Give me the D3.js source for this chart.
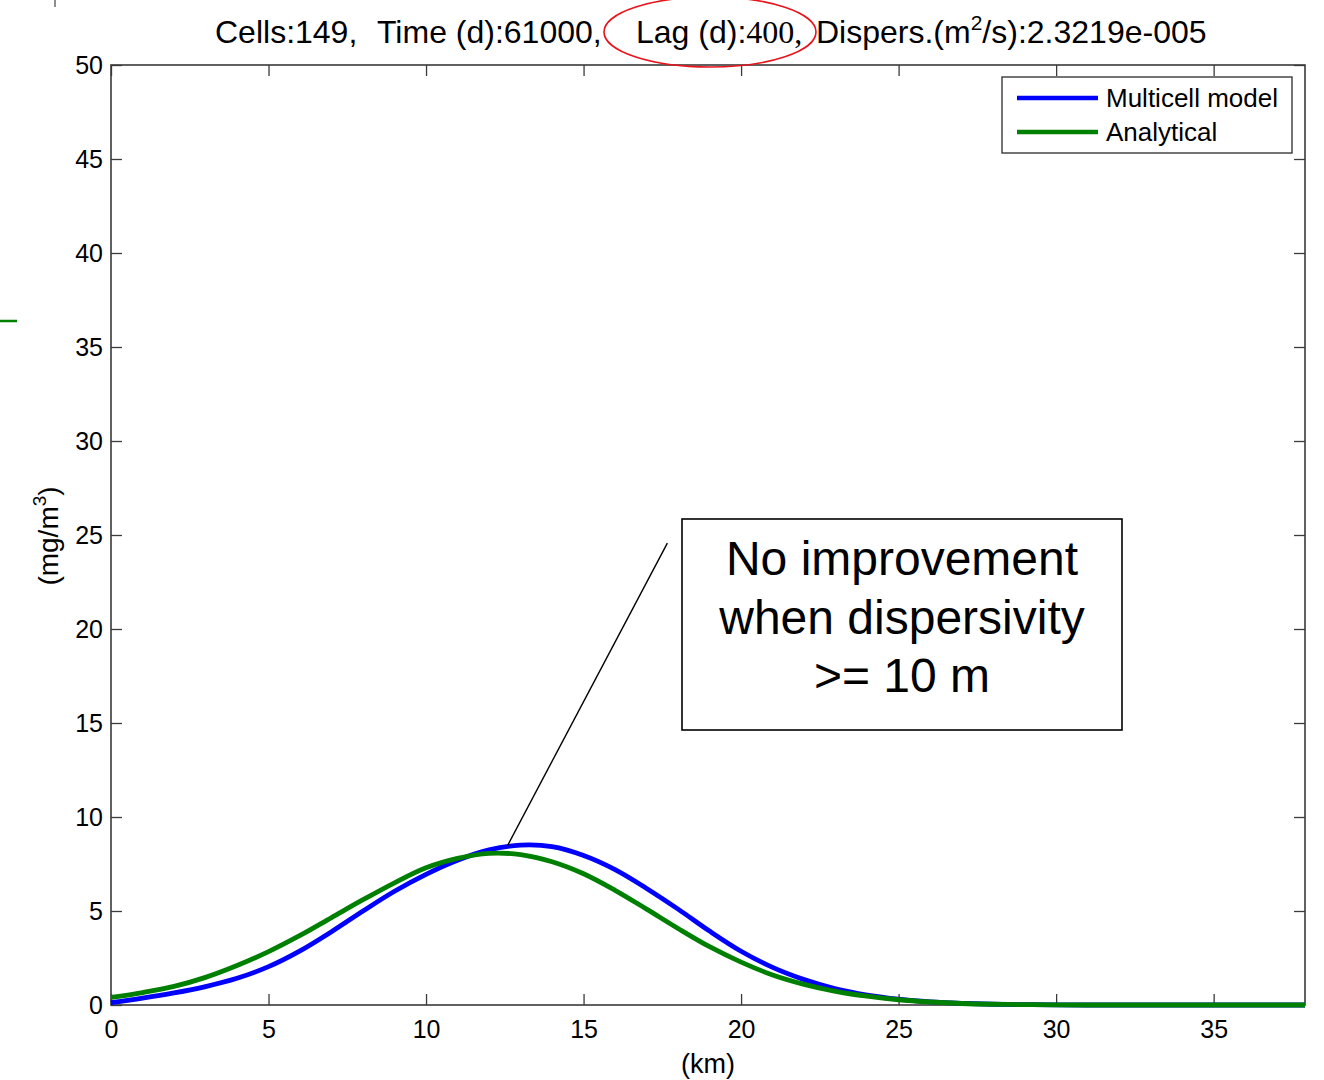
<!DOCTYPE html>
<html>
<head>
<meta charset="utf-8">
<script src="https://cdn.jsdelivr.net/npm/d3@7"></script>
<style>
  html, body { margin: 0; padding: 0; background: #fff; }
  svg { display: block; }
  text { font-family: Arial, "Liberation Sans", Helvetica, sans-serif; fill: #000; white-space: pre; }
</style>
</head>
<body>
<svg id="chart" width="1324" height="1080"></svg>
<script>
// ---- data ----
const km = [0,1,2,3,4,5,6,7,8,9,10,11,12,13,14,15,16,17,18,19,20,21,22,23,24,25,26,27,28,29,30,31,32,33,34,35,36,37,37.9];
const multicell = [0.12,0.36,0.64,0.98,1.42,2.04,2.88,3.9,5.0,6.05,6.95,7.7,8.25,8.5,8.42,7.95,7.2,6.2,5.1,3.93,2.86,2.0,1.35,0.86,0.53,0.31,0.17,0.09,0.04,0.02,0.01,0,0,0,0,0,0,0,0];
const analytical = [0.4,0.66,0.99,1.47,2.1,2.84,3.7,4.65,5.6,6.5,7.3,7.8,8.07,8.0,7.62,6.98,6.1,5.1,4.07,3.1,2.28,1.6,1.1,0.73,0.47,0.28,0.16,0.08,0.04,0.02,0.01,0,0,0,0,0,0,0,0];
const xTicks = [0,5,10,15,20,25,30,35];
const yTicks = [0,5,10,15,20,25,30,35,40,45,50];
const seriesNames = ["Multicell model","Analytical"];
const seriesColors = ["#0000ff","#008000"];
const annotationLines = ["No improvement","when dispersivity",">= 10 m"];
const annotationFrom = [17.66, 24.57];
const annotationTo = [12.58, 8.46];

// ---- layout ----
const svg = d3.select("#chart");
const L = 111, R = 1305, T = 65, B = 1005;
const x = d3.scaleLinear().domain([0, 37.9]).range([L, R]);
const y = d3.scaleLinear().domain([0, 50]).range([B, T]);
const axisColor = "#3a3a3a";

// slide artifacts
svg.append("line").attr("x1",55).attr("x2",55).attr("y1",0).attr("y2",7).attr("stroke","#444").attr("stroke-width",1.2);
svg.append("line").attr("x1",0).attr("x2",17).attr("y1",321).attr("y2",321).attr("stroke","#008000").attr("stroke-width",2.5);

// axes (ticks inward on all sides)
const tickLen = 11;
const gx = svg.append("g").attr("transform",`translate(0,${B})`)
  .call(d3.axisBottom(x).tickValues(xTicks).tickSize(-tickLen).tickFormat(d3.format("d")));
const gxt = svg.append("g").attr("transform",`translate(0,${T})`)
  .call(d3.axisTop(x).tickValues(xTicks).tickSize(-tickLen).tickFormat(""));
const gy = svg.append("g").attr("transform",`translate(${L},0)`)
  .call(d3.axisLeft(y).tickValues(yTicks).tickSize(-tickLen).tickFormat(d3.format("d")));
const gyr = svg.append("g").attr("transform",`translate(${R},0)`)
  .call(d3.axisRight(y).tickValues(yTicks).tickSize(-tickLen).tickFormat(""));
[gx,gxt,gy,gyr].forEach(g => {
  g.select(".domain").remove();
  g.selectAll(".tick line").attr("stroke",axisColor).attr("stroke-width",1.3);
  g.selectAll(".tick text").attr("font-size",25).attr("fill","#000")
   .attr("font-family","Arial, 'Liberation Sans', sans-serif");
});
gx.selectAll(".tick text").attr("dy","0.71em").attr("y", 15);
gy.selectAll(".tick text").attr("x", -8);
svg.append("rect").attr("x",L).attr("y",T).attr("width",R-L).attr("height",B-T)
  .attr("fill","none").attr("stroke",axisColor).attr("stroke-width",1.6);

// lines
const line = d3.line().x((d,i)=>x(km[i])).y(d=>y(d)).curve(d3.curveCatmullRom.alpha(0.5));
[multicell, analytical].forEach((s,i) => {
  svg.append("path").datum(s).attr("d",line).attr("fill","none")
    .attr("stroke",seriesColors[i]).attr("stroke-width",4.8).attr("stroke-linejoin","round");
});

// title
const title = svg.append("g");
title.append("text").attr("x",215).attr("y",43).attr("font-size",32).text("Cells:149,");
title.append("text").attr("x",377).attr("y",43).attr("font-size",32).text("Time (d):61000,");
const lag = title.append("text").attr("x",636).attr("y",43).attr("font-size",32);
lag.append("tspan").text("Lag (d):");
lag.append("tspan").attr("font-family","'Liberation Serif','Times New Roman',serif").text("400,");
const disp = title.append("text").attr("x",816).attr("y",43).attr("font-size",32);
disp.append("tspan").text("Dispers.(m");
disp.append("tspan").attr("font-size",21).attr("dy",-13).text("2");
disp.append("tspan").attr("dy",13).text("/s):2.3219e-005");
svg.append("ellipse").attr("cx",710).attr("cy",32).attr("rx",106).attr("ry",35)
  .attr("fill","none").attr("stroke","#e8141c").attr("stroke-width",1.6);

// axis labels
svg.append("text").attr("x",(L+R)/2).attr("y",1073).attr("text-anchor","middle").attr("font-size",27).text("(km)");
const yl = svg.append("text").attr("transform","translate(58,536) rotate(-90)").attr("text-anchor","middle").attr("font-size",28);
yl.append("tspan").text("(mg/m");
yl.append("tspan").attr("font-size",19).attr("dy",-12).text("3");
yl.append("tspan").attr("dy",12).text(")");

// legend
const lg = svg.append("g");
lg.append("rect").attr("x",1002).attr("y",77).attr("width",290).attr("height",76)
  .attr("fill","#fff").attr("stroke",axisColor).attr("stroke-width",1.4);
seriesNames.forEach((n,i) => {
  const yy = 98 + i*34;
  lg.append("line").attr("x1",1017).attr("x2",1098).attr("y1",yy).attr("y2",yy)
    .attr("stroke",seriesColors[i]).attr("stroke-width",4.6);
  lg.append("text").attr("x",1106).attr("y",yy+9).attr("font-size",26).text(n);
});

// annotation
svg.append("line").attr("x1",x(annotationFrom[0])).attr("y1",y(annotationFrom[1]))
  .attr("x2",x(annotationTo[0])).attr("y2",y(annotationTo[1])).attr("stroke","#000").attr("stroke-width",1.4);
svg.append("rect").attr("x",682).attr("y",519).attr("width",440).attr("height",211)
  .attr("fill","#fff").attr("stroke","#000").attr("stroke-width",1.6);
annotationLines.forEach((t,i) => {
  svg.append("text").attr("x",902).attr("y",575 + i*58.5).attr("text-anchor","middle")
    .attr("font-size",48).text(t);
});
</script>
</body>
</html>
